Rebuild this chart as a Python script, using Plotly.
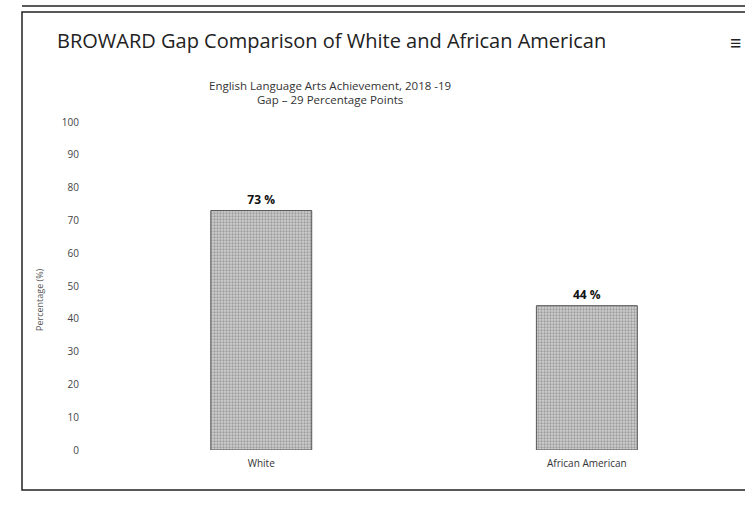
import plotly.graph_objects as go

categories = ["White", "African American"]
values = [73, 44]
y_ticks = [0, 10, 20, 30, 40, 50, 60, 70, 80, 90, 100]

title_text = "BROWARD Gap Comparison of White and African American"
subtitle_1 = "English Language Arts Achievement, 2018 -19"
subtitle_2 = "Gap \u2013 29 Percentage Points"
y_title = "Percentage (%)"

W, H = 745, 510
L, R, T, B = 90, 10, 122, 60
pw, ph = W - L - R, H - T - B

def px(x):
    return (x - L) / pw

def py(y):
    return (H - B - y) / ph

fig = go.Figure()
fig.add_trace(go.Bar(
    x=categories, y=values, width=0.31,
    marker=dict(color="#b0b0b0",
                line=dict(color="#555555", width=1),
                pattern=dict(shape=".", size=3, solidity=0.45,
                             fgcolor="#6a6a6a", bgcolor="#cfcfcf")),
    texttemplate="%{y} %", textposition="outside",
    textfont=dict(family="Open Sans", size=12, color="#111111", weight="bold"),
    cliponaxis=False, hoverinfo="skip",
))

fig.update_layout(
    width=W, height=H,
    margin=dict(l=L, r=R, t=T, b=B),
    paper_bgcolor="white", plot_bgcolor="white",
    showlegend=False,
    font=dict(family="Open Sans", color="#222222"),
    bargap=0.5,
    xaxis=dict(range=[-0.526, 1.455], showgrid=False, showline=False,
               zeroline=False, ticks="", tickfont=dict(size=10, color="#333333"),
               ticklabelstandoff=6),
    yaxis=dict(range=[0, 100], tickvals=y_ticks, showgrid=False, showline=False,
               zeroline=False, ticks="", tickfont=dict(size=10, color="#444444"),
               ticklabelstandoff=10),
)

annotations = [
    dict(text=title_text, x=px(331), y=py(40), font=dict(size=20, color="#222222")),
    dict(text=subtitle_1, x=px(330), y=py(86), font=dict(size=11.5, color="#333333")),
    dict(text=subtitle_2, x=px(330), y=py(99), font=dict(size=11.5, color="#333333")),
    dict(text=y_title, x=px(39), y=py(300), textangle=-90, font=dict(size=9, color="#555555")),
    dict(text="<b>\u2261</b>", x=px(735), y=py(43), font=dict(size=20, color="#222222")),
]
for a in annotations:
    a.update(xref="paper", yref="paper", showarrow=False, xanchor="center", yanchor="middle")
    fig.add_annotation(**a)

fig.add_shape(type="rect", xref="paper", yref="paper",
              x0=px(22), x1=px(752), y0=py(490), y1=py(12),
              line=dict(color="#222222", width=1.5), layer="below")
fig.add_shape(type="line", xref="paper", yref="paper",
              x0=px(22), x1=px(752), y0=py(6), y1=py(6),
              line=dict(color="#222222", width=1.5))

fig.write_html("out.html")
